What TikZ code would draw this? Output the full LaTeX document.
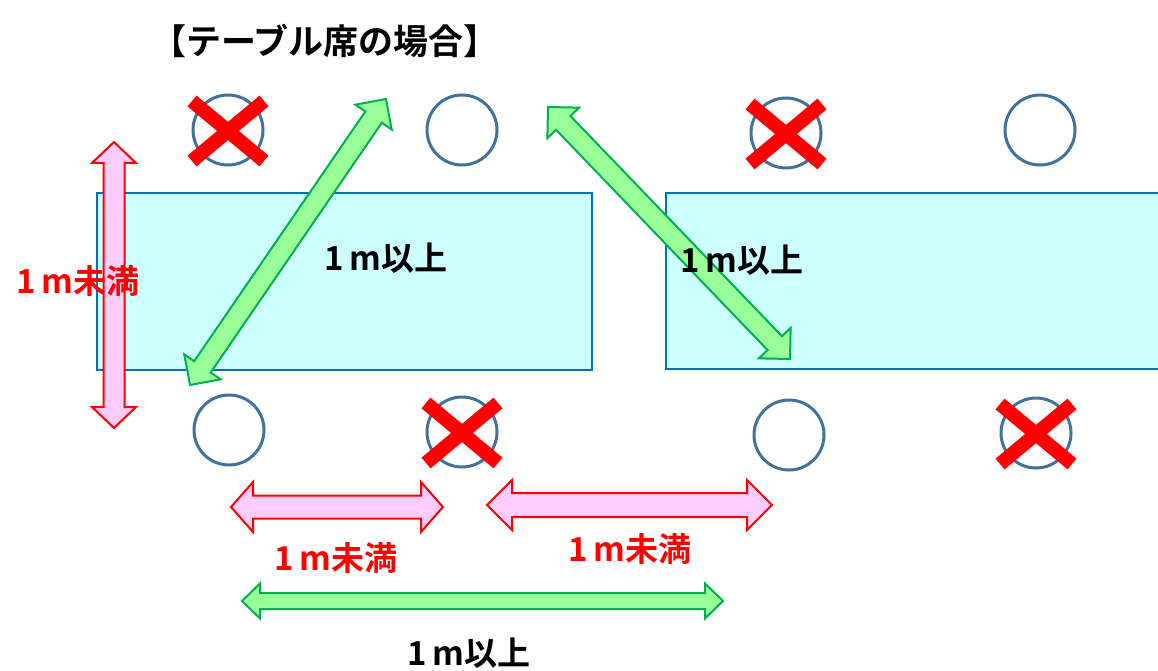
\documentclass[tikz,border=0pt]{standalone}
\usepackage{fontspec}
\setmainfont{Noto Sans CJK JP}[BoldFont={* Bold}]
\usepackage{tikz}
\usetikzlibrary{calc}
\definecolor{seatblue}{HTML}{41719C}
\definecolor{tableblue}{HTML}{0070C0}
\definecolor{tablecyan}{HTML}{CCFFFF}
\definecolor{okgreen}{HTML}{00B050}
\definecolor{okfill}{HTML}{99FF99}
\definecolor{ngfill}{HTML}{FFCCFF}
\tikzstyle{seat} = [circle,draw=seatblue,line width=3pt,minimum size=70pt,inner sep=0pt]
\tikzstyle{desk} = [rectangle,draw=tableblue,fill=tablecyan,line width=2pt,inner sep=0pt]
\tikzstyle{ban} = [red,line width=14pt]
\tikzstyle{okarrow} = [draw=okgreen,fill=okfill,line width=2pt]
\tikzstyle{ngarrow} = [draw=red,fill=ngfill,line width=2pt]
\tikzstyle{lbl} = [font=\fontsize{33}{38}\selectfont\bfseries,inner sep=0pt]
% fat double arrow: [style]{from}{to}{shaft half width}{head half width}{head length}
\newcommand{\fatarrow}[6][]{%
	\draw[#1] (#2) -- ($(#2)!#6!(#3)!#5!90:(#3)$) -- ($(#2)!#6!(#3)!#4!90:(#3)$)
	-- ($(#3)!#6!(#2)!#4!-90:(#2)$) -- ($(#3)!#6!(#2)!#5!-90:(#2)$) -- (#3)
	-- ($(#3)!#6!(#2)!#5!90:(#2)$) -- ($(#3)!#6!(#2)!#4!90:(#2)$)
	-- ($(#2)!#6!(#3)!#4!-90:(#3)$) -- ($(#2)!#6!(#3)!#5!-90:(#3)$) -- cycle;}

\begin{document}
\begin{tikzpicture}[x=1pt,y=-1pt]
	\useasboundingbox (0,0) rectangle (1158,671);
	
	% Title:
	\node [lbl,font=\fontsize{35}{40}\selectfont\bfseries] (title) at (325,41) {【テーブル席の場合】};
	
	% Tables:
	\node [desk,minimum width=495pt,minimum height=177pt] (table1) at (344.5,281.5) {};
	\node [desk,minimum width=500pt,minimum height=176pt] (table2) at (916,281) {};
	
	% Seats, top and bottom row:
	\foreach \x/\y [count=\i] in {228/130,462/130,786/133,1040/130}{%
		\node [seat] (top\i) at (\x,\y) {};
	}
	\foreach \x/\y [count=\i] in {229/430,462/432,789/435,1036/433}{%
		\node [seat] (bot\i) at (\x,\y) {};
	}
	% Seats that are not used:
	\foreach \s in {top1,top3,bot2,bot4}{%
		\draw [ban] ($(\s)+(-36,-29)$) -- ($(\s)+(36,31)$);
		\draw [ban] ($(\s)+(-36,31)$) -- ($(\s)+(36,-29)$);
	}
	
	% Arrow ends:
	\coordinate (sideA) at (114,142);
	\coordinate (sideB) at (114,428);
	\coordinate (diagA) at (190,385);
	\coordinate (diagB) at (386,99);
	\coordinate (crossA) at (548,107);
	\coordinate (crossB) at (790,359);
	\coordinate (nearA) at (231,507);
	\coordinate (nearB) at (443,507);
	\coordinate (gapA) at (487,505);
	\coordinate (gapB) at (772,505);
	\coordinate (rowA) at (242,601);
	\coordinate (rowB) at (723,601);
	
	% Arrows:
	\fatarrow[ngarrow]{sideA}{sideB}{10.5pt}{22pt}{21pt}
	\fatarrow[okarrow]{diagA}{diagB}{10pt}{22pt}{22pt}
	\fatarrow[okarrow]{crossA}{crossB}{10pt}{22pt}{22pt}
	\fatarrow[ngarrow]{nearA}{nearB}{11.5pt}{25pt}{22pt}
	\fatarrow[ngarrow]{gapA}{gapB}{12pt}{25pt}{25pt}
	\fatarrow[okarrow]{rowA}{rowB}{8pt}{17.5pt}{18pt}
	
	% Distance labels:
	\node [lbl,red] (sidelbl) at (78,281) {1\,m未満};
	\node [lbl] (diaglbl) at (386,258) {1\,m以上};
	\node [lbl] (crosslbl) at (742,260) {1\,m以上};
	\node [lbl,red] (nearlbl) at (336,558) {1\,m未満};
	\node [lbl,red] (gaplbl) at (630,549) {1\,m未満};
	\node [lbl] (rowlbl) at (469,653) {1\,m以上};
\end{tikzpicture}
\end{document}
